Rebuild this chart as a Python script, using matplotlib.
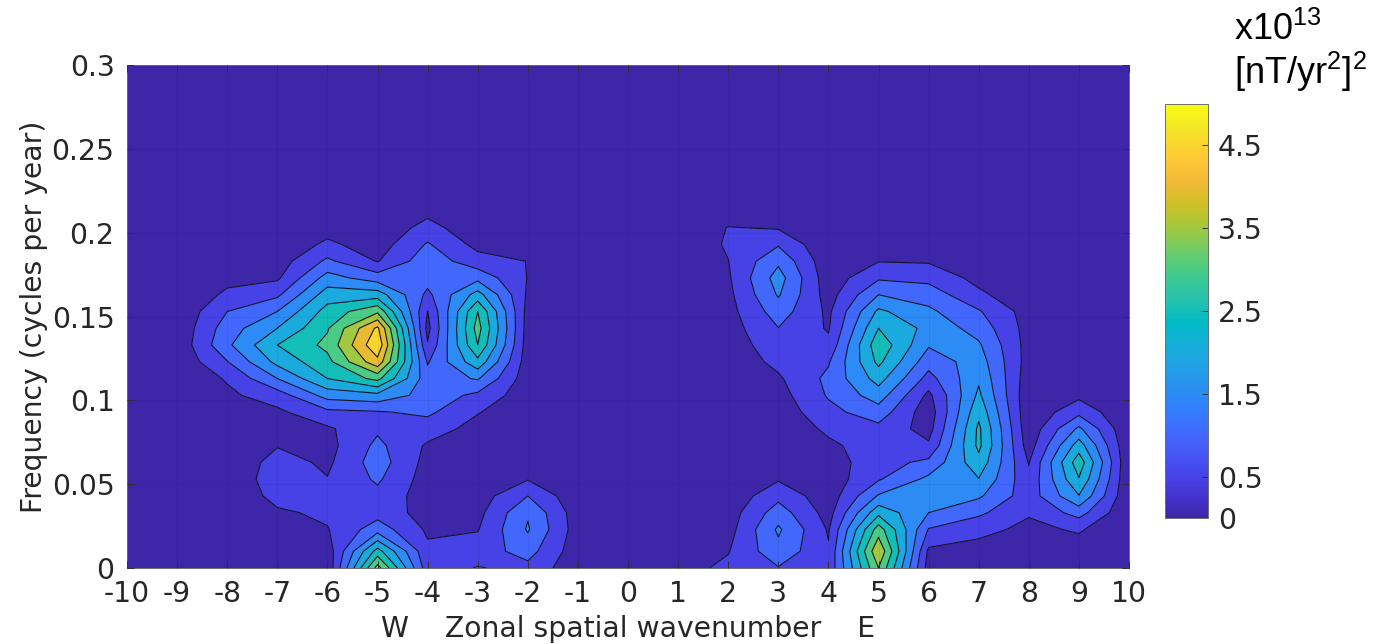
import numpy as np
import matplotlib
matplotlib.use("Agg")
import matplotlib.pyplot as plt
from matplotlib.cm import ScalarMappable
from matplotlib.colors import LinearSegmentedColormap, Normalize

plt.rcParams['mathtext.fontset'] = 'custom'
plt.rcParams['mathtext.rm'] = 'Liberation Sans'
plt.rcParams['axes.unicode_minus'] = False

wavenumber = [-10, -9, -8, -7, -6, -5, -4, -3, -2, -1, 0, 1, 2, 3, 4, 5, 6, 7, 8, 9, 10]
freq = [0, .01, .023, .033, .043, .053, .063, .073, .083, .093, .103, .113,
        .123, .133, .143, .153, .163, .173, .183, .193, .203, .213, .3]

# power per wavenumber, one value per entry of freq (x10^13)
p_m10 = [.05, .05, .05, .05, .05, .05, .05, .05, .05, .05, .05, .05, .05, .05, .05, .05, .05, .05, .05, .05, .05, .05, .05]
p_m9 = [.05, .05, .05, .05, .05, .05, .05, .05, .05, .05, .06, .08, .11, .13, .11, .08, .06, .05, .05, .05, .05, .05, .05]
p_m8 = [.05, .05, .05, .05, .05, .05, .05, .06, .1, .25, .4, .55, .98, 1.4, 1.25, 1.0, .6, .35, .15, .08, .05, .05, .05]
p_m7 = [.1, .08, .2, .42, .68, .83, .72, .47, .3, .4, .75, 1.5, 2.15, 2.5, 2.0, 1.5, .9, .42, .25, .12, .06, .05, .05]
p_m6 = [.1, .2, .47, .6, .62, .52, .4, .33, .42, .88, 1.7, 2.5, 2.85, 3.13, 2.95, 2.7, 2.25, 1.7, 1.1, .6, .3, .12, .05]
p_m5 = [3.7, 2.7, 1.27, .8, .85, 1.08, 1.25, 1.12, .92, .96, 1.85, 3.15, 4.35, 4.9, 4.6, 3.4, 2.25, 1.25, .47, .25, .12, .06, .05]
p_m4 = [.7, .6, .42, .3, .25, .27, .33, .43, .75, 1.1, 1.3, 1.2, .95, .54, .35, .49, .88, 1.2, 1.3, 1.05, .68, .35, .05]
p_m3 = [1.03, .75, .47, .35, .25, .18, .15, .18, .32, .53, .88, 1.55, 2.35, 3.0, 3.2, 3.0, 2.2, 1.35, .7, .35, .15, .08, .05]
p_m2 = [.85, 1.2, 1.55, 1.45, 1.0, .47, .2, .1, .12, .15, .19, .2, .22, .25, .28, .32, .42, .48, .49, .2, .08, .05, .05]
p_m1 = [.15, .2, .25, .22, .13, .07, .05, .05, .05, .05, .05, .05, .05, .05, .05, .05, .05, .05, .05, .05, .05, .05, .05]
p_0 = [.05, .05, .05, .05, .05, .05, .05, .05, .05, .05, .05, .05, .05, .05, .05, .05, .05, .05, .05, .05, .05, .05, .05]
p_1 = [.3, .12, .05, .05, .05, .05, .05, .05, .05, .05, .05, .05, .05, .05, .05, .05, .05, .05, .05, .05, .05, .05, .05]
p_2 = [.62, .47, .3, .25, .15, .08, .05, .06, .07, .08, .1, .13, .17, .22, .27, .32, .37, .43, .49, .57, .52, .15, .05]
p_3 = [.97, 1.35, 1.58, 1.25, .85, .45, .2, .1, .12, .2, .3, .43, .63, .8, .99, 1.25, 1.55, 1.72, 1.4, .95, .45, .12, .05]
p_4 = [.62, .55, .45, .3, .2, .2, .25, .4, .6, .85, 1.05, 1.12, .95, .62, .45, .4, .28, .2, .15, .08, .05, .05, .05]
p_5 = [3.5, 3.95, 3.25, 2.35, 1.55, .95, .8, .75, .85, 1.28, 1.75, 2.2, 2.62, 2.85, 2.5, 2.1, 1.5, .93, .48, .28, .12, .06, .05]
p_6 = [.28, .4, .97, 1.5, 1.85, 1.62, 1.12, .58, .3, .2, .38, .82, 1.2, 1.55, 1.85, 1.6, 1.28, .85, .45, .25, .1, .05, .05]
p_7 = [.15, .3, .65, 1.1, 1.58, 1.98, 2.33, 2.62, 2.6, 2.37, 2.1, 1.92, 1.75, 1.57, 1.3, 1.05, .6, .35, .18, .1, .05, .05, .05]
p_8 = [.12, .18, .38, .55, .72, .62, .47, .25, .15, .11, .12, .2, .28, .3, .3, .28, .15, .08, .05, .05, .05, .05, .05]
p_9 = [.08, .25, .56, 1.2, 1.98, 2.47, 2.8, 2.25, 1.6, .85, .38, .2, .12, .08, .05, .05, .05, .05, .05, .05, .05, .05, .05]
p_10 = [.05, .05, .05, .05, .05, .05, .05, .05, .05, .05, .05, .05, .05, .05, .05, .05, .05, .05, .05, .05, .05, .05, .05]

levels = [0, .5, 1, 1.5, 2, 2.5, 3, 3.5, 4, 4.5, 5]
xticks = wavenumber
yticks = [0, .05, .1, .15, .2, .25, .3]
yticklabels = ['0', '0.05', '0.1', '0.15', '0.2', '0.25', '0.3']
cbar_ticks = [0, .5, 1.5, 2.5, 3.5, 4.5]
cbar_labels = ['0', '0.5', '1.5', '2.5', '3.5', '4.5']

# old matlab parula, every third entry
parula = LinearSegmentedColormap.from_list('parula', [
    (.2422, .1504, .6603), (.2647, .1978, .7952), (.2783, .2559, .8991),
    (.2810, .3228, .9579), (.2699, .3892, .9906), (.2206, .4603, .9973),
    (.1786, .5289, .9682), (.1540, .5902, .9218), (.1248, .6459, .8883),
    (.0689, .6948, .8394), (.0067, .7312, .7660), (.1408, .7584, .6842),
    (.2161, .7843, .5923), (.3406, .8008, .4789), (.5044, .7993, .3480),
    (.6720, .7793, .2227), (.8203, .7498, .1535), (.9393, .7288, .2100),
    (.9970, .7659, .2199), (.9786, .8386, .1766), (.9597, .9135, .1423),
    (.9769, .9839, .0805)])

power = np.column_stack([p_m10, p_m9, p_m8, p_m7, p_m6, p_m5, p_m4, p_m3, p_m2, p_m1, p_0,
                         p_1, p_2, p_3, p_4, p_5, p_6, p_7, p_8, p_9, p_10])

W, H = 1375, 644
TEXT = '#262626'
FS = 20.3
fig = plt.figure(figsize=(W / 100, H / 100), dpi=100)
ax = fig.add_axes([127 / W, 1 - 568 / H, 1002 / W, 503 / H])

# matlab fills each band with the colour of its lower level
ax.contourf(wavenumber, freq, power, levels=levels, colors=[parula(l / 5) for l in levels[:-1]])
ax.contour(wavenumber, freq, power, levels=levels[1:-1], colors='#14142a', linewidths=0.8)

ax.set_xlim(-10, 10)
ax.set_ylim(0, .3)
ax.set_xticks(xticks)
ax.set_yticks(yticks)
ax.set_yticklabels(yticklabels)
ax.grid(True, color='k', alpha=0.05, linewidth=0.8)
ax.set_axisbelow(False)
ax.tick_params(direction='in', length=5, width=0.7, color='#303030', labelcolor=TEXT,
               labelsize=FS, top=True, right=True)
ax.tick_params(axis='x', pad=9)
ax.tick_params(axis='y', pad=9)
for s in ax.spines.values():
    s.set_color('#6e6e6e')
    s.set_linewidth(0.7)

fig.text(34 / W, 1 - 317 / H, 'Frequency (cycles per year)', rotation=90, color=TEXT,
         fontsize=FS, ha='center', va='center')
fig.text(628 / W, 1 - 629 / H, 'W    Zonal spatial wavenumber    E', color=TEXT,
         fontsize=FS, ha='center', va='center')

cax = fig.add_axes([1165 / W, 1 - 518 / H, 43 / W, 414 / H])
cbar = fig.colorbar(ScalarMappable(Normalize(0, 5), parula), cax=cax)
cbar.set_ticks(cbar_ticks)
cbar.set_ticklabels(cbar_labels)
cbar.ax.tick_params(direction='in', length=4, width=0.7, color='#303030', labelcolor=TEXT,
                    labelsize=FS, pad=7)
cbar.outline.set_edgecolor('#6e6e6e')
cbar.outline.set_linewidth(0.7)

fig.text(1234 / W, 1 - 40 / H, r'$\mathrm{x10^{13}}$', fontsize=26, color='k', va='baseline')
fig.text(1234 / W, 1 - 84 / H, r'$\mathrm{[nT/yr^{2}]^{2}}$', fontsize=26, color='k', va='baseline')

fig.savefig('out.png', dpi=100)
